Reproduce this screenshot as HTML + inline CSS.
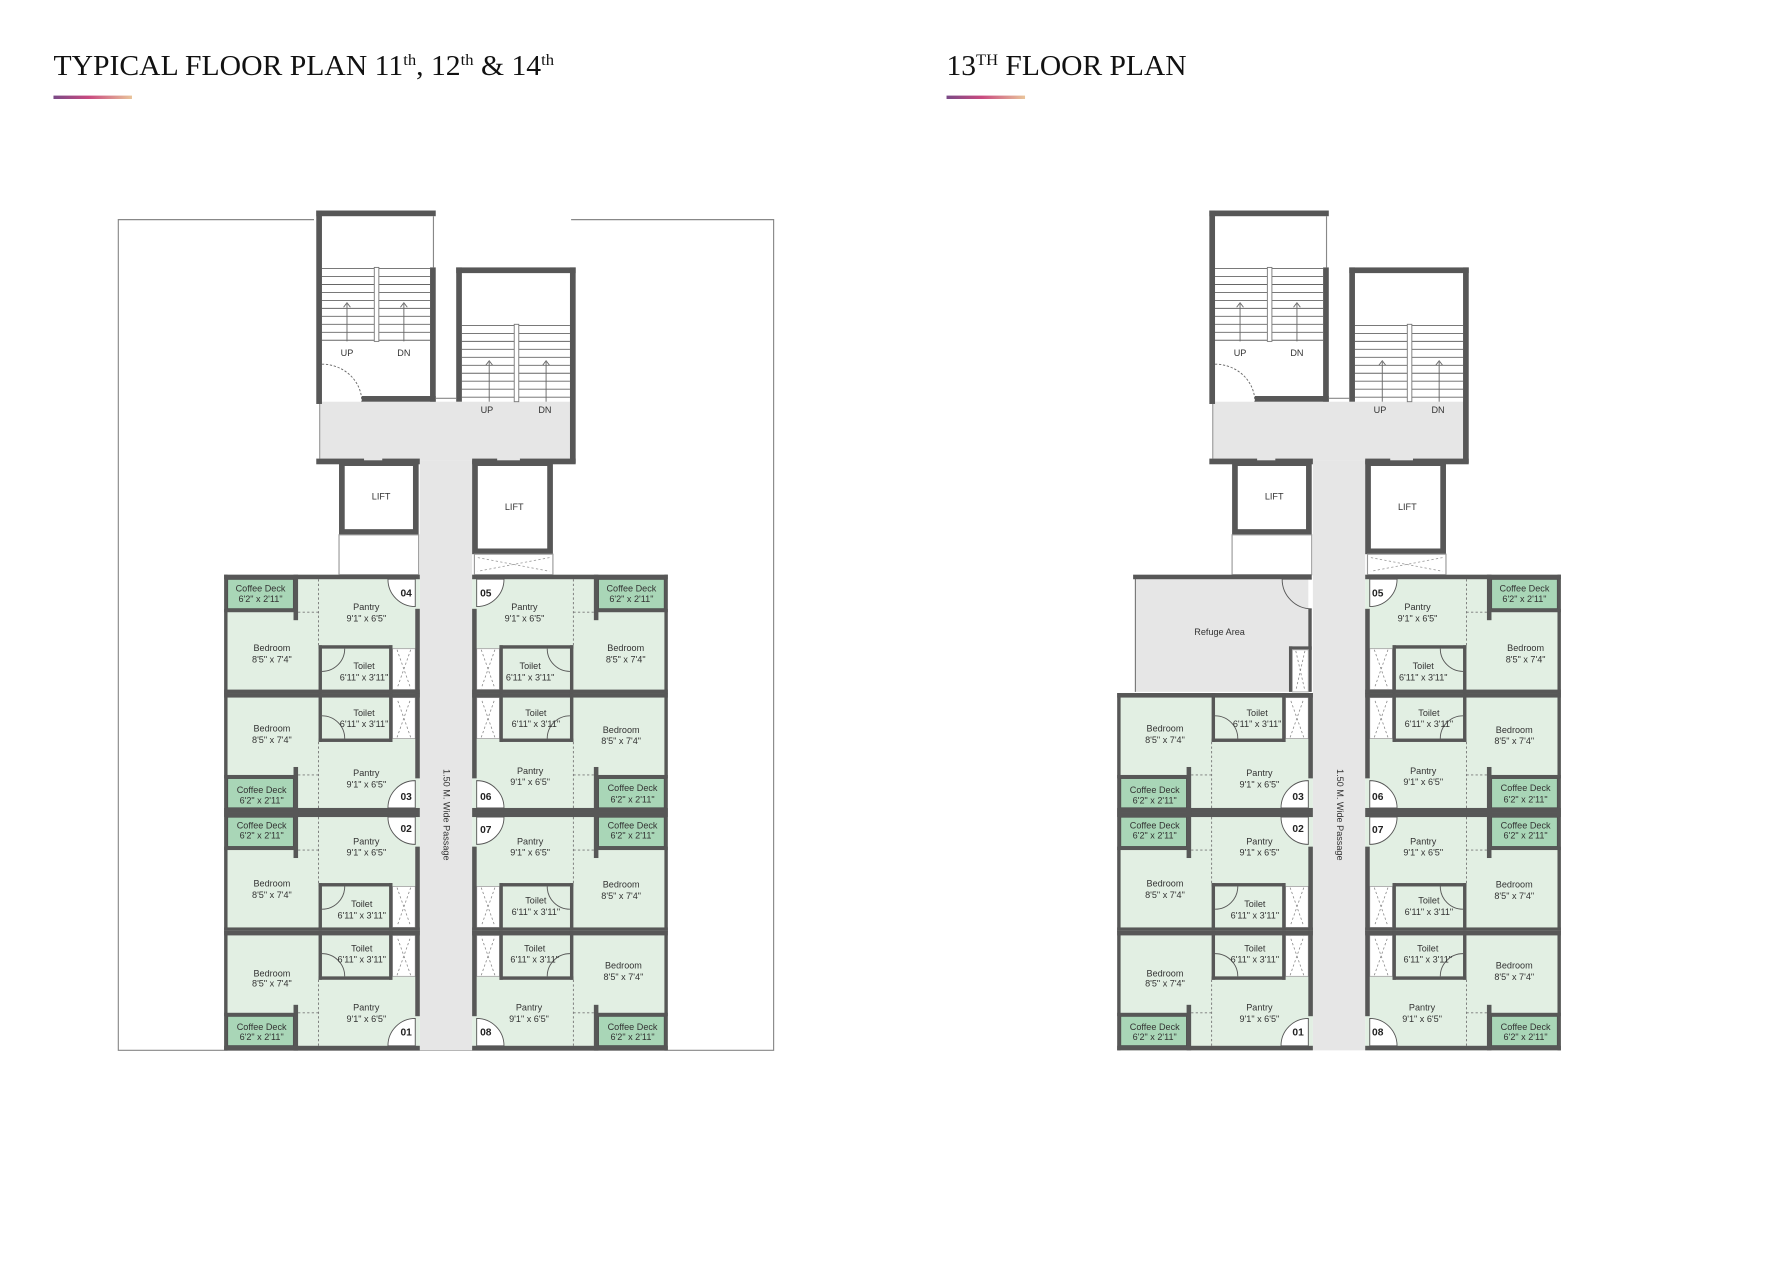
<!DOCTYPE html>
<html><head><meta charset="utf-8"><style>
html,body{margin:0;padding:0;background:#fff;}
svg{display:block;}
.t{font-family:"Liberation Sans",sans-serif;font-size:8px;fill:#333;text-anchor:middle;}
.n{font-family:"Liberation Sans",sans-serif;font-size:9px;font-weight:bold;fill:#222;text-anchor:middle;}
.h{font-family:"Liberation Serif",serif;font-size:25px;fill:#111;}
</style></head><body>
<svg width="1785" height="1262" viewBox="0 0 1569 1109" preserveAspectRatio="none" xmlns="http://www.w3.org/2000/svg">
<defs>
<linearGradient id="g" x1="0" x2="1"><stop offset="0" stop-color="#7a4a86"/><stop offset="0.45" stop-color="#c94a80"/><stop offset="1" stop-color="#e9c49a"/></linearGradient>
<g id="u">
<rect x="0" y="0" width="172" height="105" fill="#e2efe3"/>
<rect x="3" y="4" width="58" height="26" fill="#a9d6b7" stroke="#4d4d4d" stroke-width="1"/>
<line x1="83" y1="4" x2="83" y2="62" stroke="#777" stroke-width="0.8" stroke-dasharray="2,2"/>
<line x1="65" y1="33" x2="83" y2="33" stroke="#777" stroke-width="0.8" stroke-dasharray="2,2"/>
<rect x="148" y="65" width="20" height="36" fill="#fff" stroke="#aaa" stroke-width="0.8"/>
<path d="M152,66 L164,100 M164,66 L152,100" stroke="#888" stroke-width="0.7" stroke-dasharray="2,2"/>
<g fill="#575757">
<rect x="0" y="0" width="172" height="4"/>
<rect x="0" y="101" width="172" height="4"/>
<rect x="0" y="0" width="3" height="105"/>
<rect x="61" y="0" width="4" height="40"/>
<rect x="0" y="30" width="62" height="3"/>
<rect x="168" y="30" width="4" height="75"/>
<rect x="83" y="62" width="65" height="3"/>
<rect x="83" y="62" width="3" height="43"/>
<rect x="145" y="62" width="3" height="43"/>
</g>
<path d="M86,85 A20,20 0 0,0 106,65" fill="none" stroke="#555" stroke-width="0.8"/>
<path d="M168,4 L144,4 A24,24 0 0,0 168,28 Z" fill="#fff" stroke="#555" stroke-width="0.8"/>
</g>
<g id="core">
<rect x="281" y="353" width="222" height="52" fill="#e6e6e6"/>
<rect x="369" y="405" width="46" height="518" fill="#e6e6e6"/>
<line x1="281" y1="353" x2="281" y2="403" stroke="#999" stroke-width="1"/>
<line x1="503" y1="353" x2="503" y2="403" stroke="#999" stroke-width="1"/>
<g stroke="#666" stroke-width="0.8">
<line x1="283" y1="236" x2="378" y2="236"/><line x1="283" y1="243" x2="378" y2="243"/><line x1="283" y1="250" x2="378" y2="250"/><line x1="283" y1="257" x2="378" y2="257"/><line x1="283" y1="264" x2="378" y2="264"/><line x1="283" y1="271" x2="378" y2="271"/><line x1="283" y1="278" x2="378" y2="278"/><line x1="283" y1="285" x2="378" y2="285"/><line x1="283" y1="292" x2="378" y2="292"/><line x1="283" y1="299" x2="378" y2="299"/>
<line x1="406" y1="286" x2="501" y2="286"/><line x1="406" y1="293" x2="501" y2="293"/><line x1="406" y1="300" x2="501" y2="300"/><line x1="406" y1="307" x2="501" y2="307"/><line x1="406" y1="314" x2="501" y2="314"/><line x1="406" y1="321" x2="501" y2="321"/><line x1="406" y1="328" x2="501" y2="328"/><line x1="406" y1="335" x2="501" y2="335"/><line x1="406" y1="342" x2="501" y2="342"/><line x1="406" y1="349" x2="501" y2="349"/>
<line x1="305" y1="300" x2="305" y2="267"/><path d="M302,270 L305,266 L308,270" fill="none"/>
<line x1="355" y1="300" x2="355" y2="267"/><path d="M352,270 L355,266 L358,270" fill="none"/>
<line x1="430" y1="353" x2="430" y2="318"/><path d="M427,321 L430,317 L433,321" fill="none"/>
<line x1="480" y1="353" x2="480" y2="318"/><path d="M477,321 L480,317 L483,321" fill="none"/>
</g>
<rect x="329" y="235" width="4" height="65" fill="#fff" stroke="#777" stroke-width="0.8"/>
<rect x="452" y="285" width="4" height="68" fill="#fff" stroke="#777" stroke-width="0.8"/>
<path d="M283,320 A35,33 0 0,1 318,353" fill="none" stroke="#666" stroke-width="0.8" stroke-dasharray="2,1.5"/>
<g fill="#575757">
<rect x="278" y="185" width="105" height="5"/>
<rect x="278" y="185" width="5" height="170"/>
<rect x="378" y="235" width="5" height="118"/>
<rect x="318" y="348" width="65" height="5"/>
<rect x="401" y="235" width="105" height="5"/>
<rect x="401" y="235" width="5" height="118"/>
<rect x="501" y="235" width="5" height="172"/>
<rect x="278" y="403" width="42" height="5"/>
<rect x="336" y="403" width="33" height="5"/>
<rect x="415" y="403" width="22" height="5"/>
<rect x="457" y="403" width="49" height="5"/>
</g>
<line x1="381" y1="190" x2="381" y2="235" stroke="#888" stroke-width="1"/>
<line x1="383" y1="350" x2="401" y2="350" stroke="#888" stroke-width="1"/>
<rect x="300.5" y="407" width="65" height="60.5" fill="#fff" stroke="#575757" stroke-width="5"/>
<rect x="417.5" y="407" width="66" height="77.5" fill="#fff" stroke="#575757" stroke-width="5"/>
<rect x="298" y="470" width="70" height="35" fill="#fff" stroke="#999" stroke-width="1"/>
<rect x="417" y="487" width="69" height="18" fill="#fff" stroke="#999" stroke-width="1"/>
<path d="M420,490 L483,502 M483,490 L420,502" stroke="#999" stroke-width="0.7" stroke-dasharray="2,2"/>
</g>
</defs>

<text class="h" x="47" y="66" textLength="440" lengthAdjust="spacingAndGlyphs">TYPICAL FLOOR PLAN 11<tspan font-size="14" dy="-9">th</tspan><tspan dy="9">, 12</tspan><tspan font-size="14" dy="-9">th</tspan><tspan dy="9"> &amp; 14</tspan><tspan font-size="14" dy="-9">th</tspan></text>
<rect x="47" y="84" width="69" height="3" fill="url(#g)"/>
<text class="h" x="832" y="66" textLength="211" lengthAdjust="spacingAndGlyphs">13<tspan font-size="14" dy="-9">TH</tspan><tspan dy="9"> FLOOR PLAN</tspan></text>
<rect x="832" y="84" width="69" height="3" fill="url(#g)"/>

<!-- LEFT PLAN -->
<path d="M276,193 L104,193 L104,923 L680,923 L680,193 L502,193" fill="none" stroke="#888" stroke-width="1"/>
<use href="#core"/>
<use href="#u" transform="translate(197,505)"/>
<use href="#u" transform="translate(197,714) scale(1,-1)"/>
<use href="#u" transform="translate(197,714)"/>
<use href="#u" transform="translate(197,923) scale(1,-1)"/>
<use href="#u" transform="translate(587,505) scale(-1,1)"/>
<use href="#u" transform="translate(587,714) scale(-1,-1)"/>
<use href="#u" transform="translate(587,714) scale(-1,1)"/>
<use href="#u" transform="translate(587,923) scale(-1,-1)"/>

<!-- RIGHT PLAN -->
<use href="#core" transform="translate(785,0)"/>
<rect x="998" y="507" width="152" height="101" fill="#e6e6e6"/>
<line x1="998" y1="507" x2="998" y2="608" stroke="#777" stroke-width="1"/>
<rect x="996" y="505" width="157" height="4" fill="#575757"/>
<rect x="1150" y="535" width="3" height="73" fill="#575757"/>
<rect x="1133" y="568" width="20" height="3" fill="#575757"/>
<rect x="1133" y="568" width="3" height="40" fill="#575757"/>
<rect x="1136" y="571" width="14" height="37" fill="#fff" stroke="#aaa" stroke-width="0.8"/>
<path d="M1139,572 L1147,607 M1147,572 L1139,607" stroke="#888" stroke-width="0.7" stroke-dasharray="2,2"/>
<path d="M1153,509 L1127,509 A26,26 0 0,0 1153,535" fill="none" stroke="#555" stroke-width="0.8"/>
<text class="t" x="1072" y="558">Refuge Area</text>
<use href="#u" transform="translate(982,714) scale(1,-1)"/>
<use href="#u" transform="translate(982,714)"/>
<use href="#u" transform="translate(982,923) scale(1,-1)"/>
<use href="#u" transform="translate(1372,505) scale(-1,1)"/>
<use href="#u" transform="translate(1372,714) scale(-1,-1)"/>
<use href="#u" transform="translate(1372,714) scale(-1,1)"/>
<use href="#u" transform="translate(1372,923) scale(-1,-1)"/>

<!-- core labels -->
<g class="t">
<text x="305" y="313">UP</text><text x="355" y="313">DN</text><text x="428" y="363">UP</text><text x="479" y="363">DN</text>
<text x="335" y="439">LIFT</text><text x="452" y="448">LIFT</text>
<text x="1090" y="313">UP</text><text x="1140" y="313">DN</text><text x="1213" y="363">UP</text><text x="1264" y="363">DN</text>
<text x="1120" y="439">LIFT</text><text x="1237" y="448">LIFT</text>
</g>
<text class="t" transform="translate(390,716) rotate(90)">1.50 M. Wide Passage</text>
<text class="t" transform="translate(1175,716) rotate(90)">1.50 M. Wide Passage</text>

<!-- left plan unit labels -->
<g class="t">
<text x="229" y="520">Coffee Deck</text><text x="229" y="529">6'2" x 2'11"</text>
<text x="322" y="536">Pantry</text><text x="322" y="546">9'1" x 6'5"</text>
<text x="239" y="572">Bedroom</text><text x="239" y="582">8'5" x 7'4"</text>
<text x="320" y="588">Toilet</text><text x="320" y="598">6'11" x 3'11"</text>

<text x="239" y="643">Bedroom</text><text x="239" y="653">8'5" x 7'4"</text>
<text x="320" y="629">Toilet</text><text x="320" y="639">6'11" x 3'11"</text>
<text x="322" y="682">Pantry</text><text x="322" y="692">9'1" x 6'5"</text>
<text x="230" y="697">Coffee Deck</text><text x="230" y="706">6'2" x 2'11"</text>

<text x="230" y="728">Coffee Deck</text><text x="230" y="737">6'2" x 2'11"</text>
<text x="322" y="742">Pantry</text><text x="322" y="752">9'1" x 6'5"</text>
<text x="239" y="779">Bedroom</text><text x="239" y="789">8'5" x 7'4"</text>
<text x="318" y="797">Toilet</text><text x="318" y="807">6'11" x 3'11"</text>

<text x="239" y="858">Bedroom</text><text x="239" y="867">8'5" x 7'4"</text>
<text x="318" y="836">Toilet</text><text x="318" y="846">6'11" x 3'11"</text>
<text x="322" y="888">Pantry</text><text x="322" y="898">9'1" x 6'5"</text>
<text x="230" y="905">Coffee Deck</text><text x="230" y="914">6'2" x 2'11"</text>

<text x="555" y="520">Coffee Deck</text><text x="555" y="529">6'2" x 2'11"</text>
<text x="461" y="536">Pantry</text><text x="461" y="546">9'1" x 6'5"</text>
<text x="550" y="572">Bedroom</text><text x="550" y="582">8'5" x 7'4"</text>
<text x="466" y="588">Toilet</text><text x="466" y="598">6'11" x 3'11"</text>

<text x="471" y="629">Toilet</text><text x="471" y="639">6'11" x 3'11"</text>
<text x="546" y="644">Bedroom</text><text x="546" y="654">8'5" x 7'4"</text>
<text x="466" y="680">Pantry</text><text x="466" y="690">9'1" x 6'5"</text>
<text x="556" y="695">Coffee Deck</text><text x="556" y="705">6'2" x 2'11"</text>

<text x="556" y="728">Coffee Deck</text><text x="556" y="737">6'2" x 2'11"</text>
<text x="466" y="742">Pantry</text><text x="466" y="752">9'1" x 6'5"</text>
<text x="546" y="780">Bedroom</text><text x="546" y="790">8'5" x 7'4"</text>
<text x="471" y="794">Toilet</text><text x="471" y="804">6'11" x 3'11"</text>

<text x="470" y="836">Toilet</text><text x="470" y="846">6'11" x 3'11"</text>
<text x="548" y="851">Bedroom</text><text x="548" y="861">8'5" x 7'4"</text>
<text x="465" y="888">Pantry</text><text x="465" y="898">9'1" x 6'5"</text>
<text x="556" y="905">Coffee Deck</text><text x="556" y="914">6'2" x 2'11"</text>
</g>
<g class="n">
<text x="357" y="524">04</text><text x="357" y="703">03</text><text x="357" y="731">02</text><text x="357" y="910">01</text>
<text x="427" y="524">05</text><text x="427" y="703">06</text><text x="427" y="732">07</text><text x="427" y="910">08</text>
<text x="1141" y="703">03</text><text x="1141" y="731">02</text><text x="1141" y="910">01</text>
<text x="1211" y="524">05</text><text x="1211" y="703">06</text><text x="1211" y="732">07</text><text x="1211" y="910">08</text>
</g>

<!-- right plan unit labels -->
<g class="t">
<text x="1024" y="643">Bedroom</text><text x="1024" y="653">8'5" x 7'4"</text>
<text x="1105" y="629">Toilet</text><text x="1105" y="639">6'11" x 3'11"</text>
<text x="1107" y="682">Pantry</text><text x="1107" y="692">9'1" x 6'5"</text>
<text x="1015" y="697">Coffee Deck</text><text x="1015" y="706">6'2" x 2'11"</text>

<text x="1015" y="728">Coffee Deck</text><text x="1015" y="737">6'2" x 2'11"</text>
<text x="1107" y="742">Pantry</text><text x="1107" y="752">9'1" x 6'5"</text>
<text x="1024" y="779">Bedroom</text><text x="1024" y="789">8'5" x 7'4"</text>
<text x="1103" y="797">Toilet</text><text x="1103" y="807">6'11" x 3'11"</text>

<text x="1024" y="858">Bedroom</text><text x="1024" y="867">8'5" x 7'4"</text>
<text x="1103" y="836">Toilet</text><text x="1103" y="846">6'11" x 3'11"</text>
<text x="1107" y="888">Pantry</text><text x="1107" y="898">9'1" x 6'5"</text>
<text x="1015" y="905">Coffee Deck</text><text x="1015" y="914">6'2" x 2'11"</text>

<text x="1340" y="520">Coffee Deck</text><text x="1340" y="529">6'2" x 2'11"</text>
<text x="1246" y="536">Pantry</text><text x="1246" y="546">9'1" x 6'5"</text>
<text x="1341" y="572">Bedroom</text><text x="1341" y="582">8'5" x 7'4"</text>
<text x="1251" y="588">Toilet</text><text x="1251" y="598">6'11" x 3'11"</text>

<text x="1256" y="629">Toilet</text><text x="1256" y="639">6'11" x 3'11"</text>
<text x="1331" y="644">Bedroom</text><text x="1331" y="654">8'5" x 7'4"</text>
<text x="1251" y="680">Pantry</text><text x="1251" y="690">9'1" x 6'5"</text>
<text x="1341" y="695">Coffee Deck</text><text x="1341" y="705">6'2" x 2'11"</text>

<text x="1341" y="728">Coffee Deck</text><text x="1341" y="737">6'2" x 2'11"</text>
<text x="1251" y="742">Pantry</text><text x="1251" y="752">9'1" x 6'5"</text>
<text x="1331" y="780">Bedroom</text><text x="1331" y="790">8'5" x 7'4"</text>
<text x="1256" y="794">Toilet</text><text x="1256" y="804">6'11" x 3'11"</text>

<text x="1255" y="836">Toilet</text><text x="1255" y="846">6'11" x 3'11"</text>
<text x="1331" y="851">Bedroom</text><text x="1331" y="861">8'5" x 7'4"</text>
<text x="1250" y="888">Pantry</text><text x="1250" y="898">9'1" x 6'5"</text>
<text x="1341" y="905">Coffee Deck</text><text x="1341" y="914">6'2" x 2'11"</text>
</g>
</svg>
</body></html>
